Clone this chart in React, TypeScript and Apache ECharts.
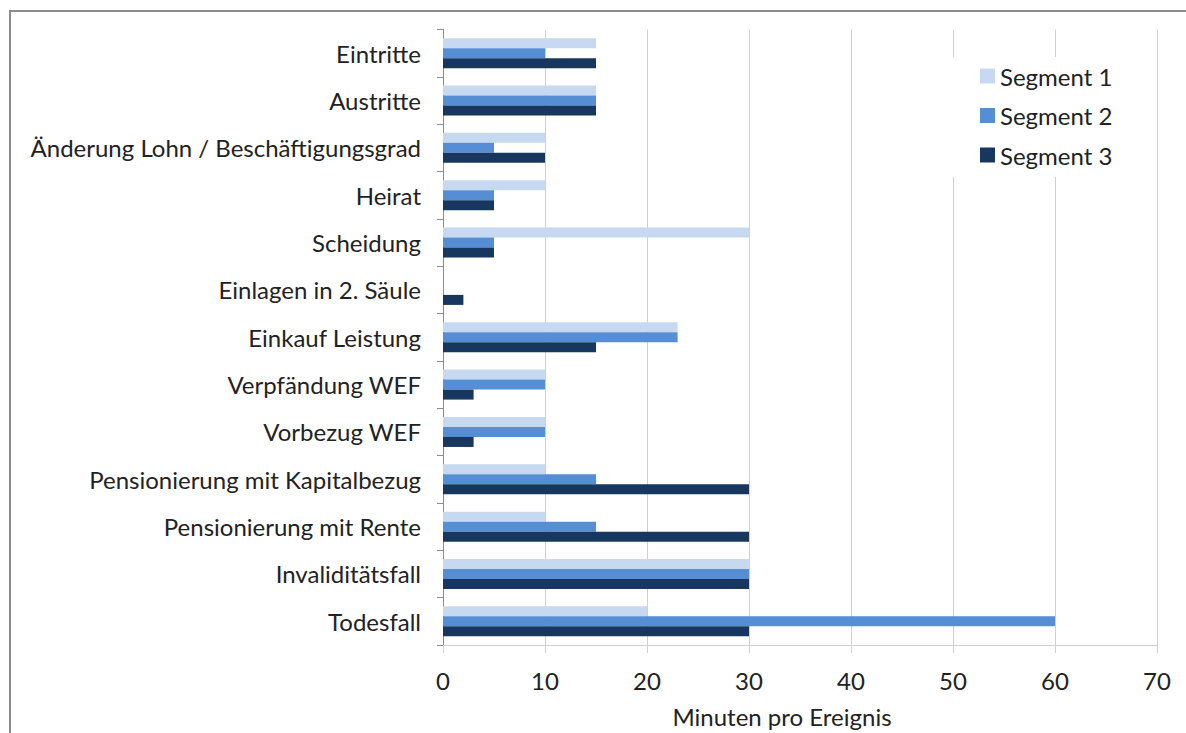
import React, { useEffect, useRef } from "react";
import * as echarts from "echarts";

const categories = [
  "Eintritte",
  "Austritte",
  "Änderung Lohn / Beschäftigungsgrad",
  "Heirat",
  "Scheidung",
  "Einlagen in 2. Säule",
  "Einkauf Leistung",
  "Verpfändung WEF",
  "Vorbezug WEF",
  "Pensionierung mit Kapitalbezug",
  "Pensionierung mit Rente",
  "Invaliditätsfall",
  "Todesfall",
];
const segment1 = [15, 15, 10, 10, 30, 0, 23, 10, 10, 10, 10, 30, 20];
const segment2 = [10, 15, 5, 5, 5, 0, 23, 10, 10, 15, 15, 30, 60];
const segment3 = [15, 15, 10, 5, 5, 2, 15, 3, 3, 30, 30, 30, 30];
const seriesNames = ["Segment 1", "Segment 2", "Segment 3"];
const colors = ["#C6D9F1", "#558ED5", "#17375E"];
const xTicks = { min: 0, max: 70, interval: 10 };
const axisTitle = "Minuten pro Ereignis";

const FONT = "Lato, 'Open Sans', sans-serif";
const FS = 24;
const TXT = "#222222";

export default function App() {
  const ref = useRef<HTMLDivElement>(null);
  useEffect(() => {
    const chart = echarts.init(ref.current!, null, { renderer: "svg" });
    const data = [segment1, segment2, segment3];
    chart.setOption({
      animation: false,
      backgroundColor: "#ffffff",
      textStyle: { fontFamily: FONT },
      graphic: [
        {
          type: "rect",
          z: -10,
          shape: { x: 10, y: 11, width: 1300, height: 900 },
          style: { fill: "none", stroke: "#8c8c8c", lineWidth: 2 },
        },
      ],
      grid: { left: 443, right: 29, top: 29.5, bottom: 83, containLabel: false },
      legend: {
        data: seriesNames,
        orient: "vertical",
        left: 945,
        top: 57,
        padding: [6, 20, 9, 35],
        backgroundColor: "#ffffff",
        itemWidth: 15,
        itemHeight: 15,
        itemGap: 13.5,
        icon: "rect",
        textStyle: { fontFamily: FONT, fontSize: FS, color: TXT, lineHeight: 26 },
        z: 10,
      },
      xAxis: {
        type: "value",
        min: xTicks.min,
        max: xTicks.max,
        interval: xTicks.interval,
        name: axisTitle,
        nameLocation: "middle",
        nameGap: 59,
        nameTextStyle: { fontFamily: FONT, fontSize: FS, color: TXT, padding: [0, 36, 0, 0] },
        axisLine: { show: true, lineStyle: { color: "#d0d0d0", width: 1 } },
        axisTick: { show: true, length: 8, lineStyle: { color: "#d0d0d0" } },
        axisLabel: { fontFamily: FONT, fontSize: FS, color: TXT, margin: 23 },
        splitLine: { show: true, lineStyle: { color: "#d0d0d0", width: 1 } },
      },
      yAxis: {
        type: "category",
        data: categories,
        inverse: true,
        axisLine: { show: true, lineStyle: { color: "#8c8c8c", width: 1 } },
        axisTick: { show: true, length: 6, lineStyle: { color: "#8c8c8c" } },
        axisLabel: { fontFamily: FONT, fontSize: FS, color: TXT, margin: 22 },
        splitLine: { show: false },
      },
      series: seriesNames.map((name, i) => ({
        name,
        type: "bar",
        data: data[i],
        barWidth: 10,
        barGap: "0%",
        itemStyle: { color: colors[i] },
      })),
    });
    return () => chart.dispose();
  }, []);
  return (
    <div
      ref={ref}
      style={{ position: "fixed", left: 0, top: 0, width: 1186, height: 733 }}
    />
  );
}
